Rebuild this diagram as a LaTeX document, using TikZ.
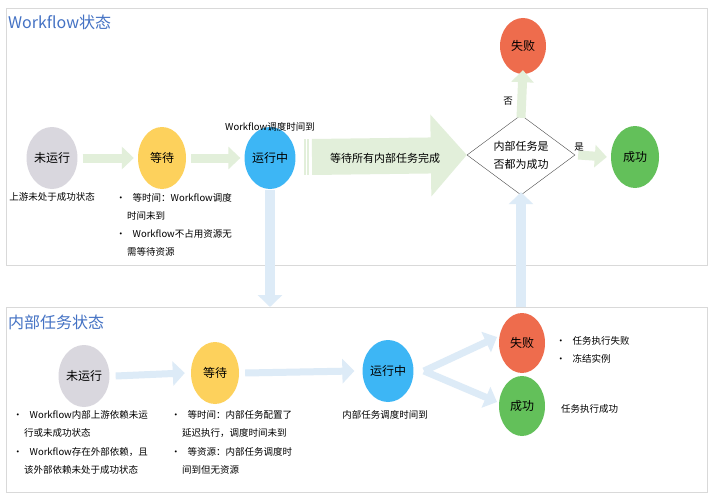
\documentclass[tikz,border=0pt]{standalone}
\usepackage{fontspec}
\setmainfont{Noto Sans CJK SC}
\usetikzlibrary{arrows.meta,shapes.geometric}
\definecolor{gArr}{HTML}{E2EFDA}
\definecolor{bArr}{HTML}{DDEBF7}
\definecolor{cGray}{HTML}{D9D7DE}
\definecolor{cYel}{HTML}{FDD15C}
\definecolor{cBlue}{HTML}{3DB6F5}
\definecolor{cRed}{HTML}{EE6C4D}
\definecolor{cGreen}{HTML}{63C05A}
\definecolor{ttl}{HTML}{4472C4}
\newcommand{\bul}{•\hspace{7pt}}
\begin{document}
\begin{tikzpicture}[x=1pt,y=-1pt,
 st/.style={ellipse,minimum width=48pt,minimum height=62pt,inner sep=0pt,font=\fontsize{12}{14}\selectfont},
 lab/.style={font=\fontsize{9.5}{11}\selectfont,inner sep=1pt},
 bl/.style={lab,anchor=west},
 garr/.style={draw=gArr,line width=9pt,-{Triangle[length=12pt,width=22pt]}},
 barr/.style={draw=bArr,line width=10pt,-{Triangle[length=12pt,width=24pt]}},
 panel/.style={draw=black!15,fill=white,line width=0.8pt},
 title/.style={anchor=west,text=ttl,font=\fontsize{16}{18}\selectfont,inner sep=0pt}]
\useasboundingbox (0,0) rectangle (714,500);
\fill[white] (0,0) rectangle (714,500);
\node[panel,minimum width=701pt,minimum height=257pt,anchor=north west] (p1) at (6,8) {};
\node[panel,minimum width=701pt,minimum height=185pt,anchor=north west] (p2) at (6,307) {};
\node[title] (t1) at (8,22) {Workflow状态};
\node[title] (t2) at (8,322) {内部任务状态};
% top
\node[st,fill=cGray] (a1) at (52,158) {未运行};
\node[st,fill=cYel] (a2) at (162,158) {等待};
\node[st,fill=cBlue] (a3) at (270,158) {运行中};
\node[diamond,draw=black!70,fill=white,aspect=1.3,minimum width=108pt,minimum height=80pt,inner sep=0pt,align=center,font=\fontsize{11}{18}\selectfont] (d) at (521,155) {内部任务是\\否都为成功};
\node[st,fill=cRed,minimum width=46pt,minimum height=56pt] (a4) at (523,46) {失败};
\node[st,fill=cGreen] (a5) at (635,157) {成功};
\draw[garr] ([xshift=5pt]a1.east) -- ([xshift=-4pt]a2.west);
\draw[garr] ([xshift=5pt]a2.east) -- ([xshift=-4pt]a3.west);
\draw[draw=gArr,line width=36pt,-{Triangle[length=36pt,width=80pt]}] (312,157) -- (d.west);
\foreach \xx in {305,308} \draw[gArr,line width=1.5pt] (\xx,139) -- (\xx,175);
\node[lab,font=\fontsize{11}{13}\selectfont] (l0) at (385,158) {等待所有内部任务完成};
\draw[garr] ([xshift=3pt]d.east) -- ([xshift=-4pt]a5.west);
\draw[garr] ([yshift=-3pt]d.north) -- ([yshift=4pt]a4.south);
\node[lab] (no) at (508,101) {否};
\node[lab] (yes) at (579,147) {是};
\node[lab] (l1) at (270,127) {Workflow调度时间到};
\node[lab] (l2) at (52,197) {上游未处于成功状态};
\node[bl] at (115,198) {\bul 等时间：Workflow调度};
\node[bl] at (126,216) {时间未到};
\node[bl] at (115,234) {\bul Workflow不占用资源无};
\node[bl] at (126,252) {需等待资源};
% bottom
\node[st,fill=cGray] (b1) at (84,376) {未运行};
\node[st,fill=cYel] (b2) at (215,373) {等待};
\node[st,fill=cBlue] (b3) at (388,371) {运行中};
\node[st,fill=cRed,minimum height=60pt,minimum width=46pt] (b4) at (522,343) {失败};
\node[st,fill=cGreen,minimum height=60pt,minimum width=46pt] (b5) at (522,406) {成功};
\coordinate (c1) at (270,190);
\coordinate (c2) at (270,307);
\draw[barr] (c1) -- (c2);
\coordinate (c3) at (521,307);
\draw[barr] (c3) -- ([yshift=3pt]d.south);
\draw[barr,line width=7pt] ([xshift=6pt]b1.east) -- ([xshift=-6pt]b2.west);
\draw[barr,line width=7pt] ([xshift=6pt]b2.east) -- ([xshift=-8pt]b3.west);
\coordinate (m) at (424,371);
\draw[draw=bArr,line width=7pt,-{Triangle[length=12pt,width=22pt]}] (m) -- (497,337);
\draw[draw=bArr,line width=7pt,-{Triangle[length=12pt,width=22pt]}] (m) -- (497,402);
\node[lab] (l3) at (385,415) {内部任务调度时间到};
\node[bl] at (12,415) {\bul Workflow内部上游依赖未运};
\node[bl] at (23,433) {行或未成功状态};
\node[bl] at (12,452) {\bul Workflow存在外部依赖，且};
\node[bl] at (23,470) {该外部依赖未处于成功状态};
\node[bl] at (170,415) {\bul 等时间：内部任务配置了};
\node[bl] at (181,433) {延迟执行，调度时间未到};
\node[bl] at (170,452) {\bul 等资源：内部任务调度时};
\node[bl] at (181,470) {间到但无资源};
\node[bl] at (555,341) {\bul 任务执行失败};
\node[bl] at (555,359) {\bul 冻结实例};
\node[bl] at (560,409) {任务执行成功};
\end{tikzpicture}
\end{document}
